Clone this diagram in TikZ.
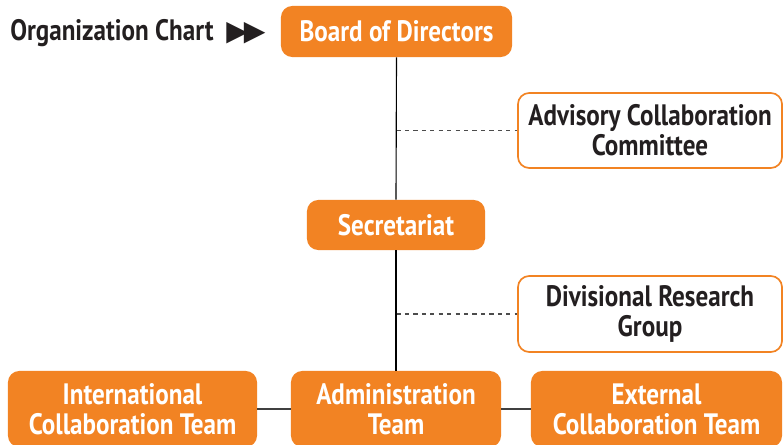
\documentclass[tikz,border=0pt]{standalone}
\usepackage{fontspec}
\setmainfont{PT Sans}[FakeStretch=0.85]
\newfontfamily\symbolfont{DejaVu Sans}
\usetikzlibrary{positioning}
\definecolor{chartorange}{HTML}{F28323}
\definecolor{chartink}{HTML}{231F20}

\begin{document}
\begin{tikzpicture}[x=0.025cm,y=-0.025cm,
    font=\bfseries\fontsize{21}{21.5}\selectfont,
    solid unit/.style={fill=chartorange,text=white,rounded corners=8pt,
      align=center,inner sep=0pt},
    open unit/.style={draw=chartorange,line width=1.2pt,fill=white,
      text=chartink,rounded corners=8pt,align=center,inner sep=0pt},
    spine/.style={draw=black,line width=0.8pt},
    link/.style={draw=black!75,line width=1pt}]
  \useasboundingbox (0,0) rectangle (783,445);

  % heading
  \node[anchor=base west,text=chartink,inner sep=0pt] (title) at (10,41)
    {Organization Chart\hspace{9pt}{\symbolfont\fontsize{20}{20}\selectfont ▶\kern-3pt▶}};

  % units
  \node[solid unit,minimum width=5.775cm,minimum height=1.275cm] (board) at (396.5,31.5) {Board of Directors};
  \node[open unit,minimum width=6.6cm,minimum height=1.875cm] (advisory) at (650,130.5) {Advisory Collaboration\\Committee};
  \node[solid unit,minimum width=4.45cm,minimum height=1.25cm] (secretariat) at (396,225) {Secretariat};
  \node[open unit,minimum width=6.6cm,minimum height=1.9cm] (research) at (650,314) {Divisional Research\\Group};
  \node[solid unit,minimum width=6.225cm,minimum height=1.9cm] (international) at (132.5,409) {International\\Collaboration Team};
  \node[solid unit,minimum width=5.25cm,minimum height=1.9cm] (admin) at (396,409) {Administration\\Team};
  \node[solid unit,minimum width=6.275cm,minimum height=1.9cm] (external) at (656.5,409) {External\\Collaboration Team};

  % connectors
  \draw[spine] (board.south) -- (secretariat.north);
  \draw[spine] (secretariat.south) -- (admin.north);
  \draw[spine,dashed,draw=black!70] (board.south |- advisory.west) -- (advisory.west);
  \draw[spine,dashed,draw=black!70] (board.south |- research.west) -- (research.west);
  \draw[link] (international.east) -- (admin.west);
  \draw[link] (admin.east) -- (external.west);
\end{tikzpicture}
\end{document}
